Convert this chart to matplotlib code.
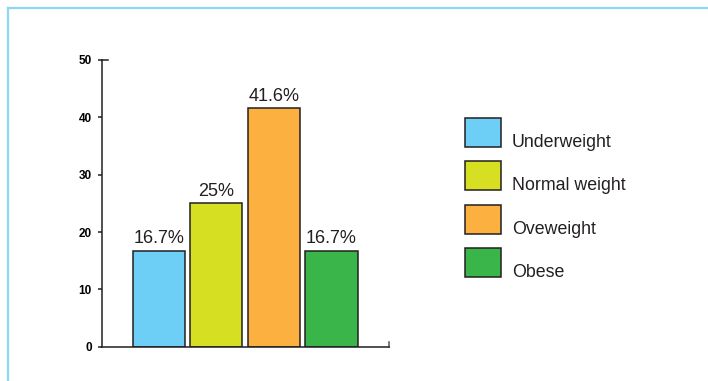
import matplotlib
matplotlib.use("Agg")
import matplotlib.pyplot as plt
from matplotlib.lines import Line2D
from matplotlib.patches import Rectangle

plt.rcParams['font.family'] = ['Liberation Sans', 'DejaVu Sans']

categories = ["Underweight", "Normal weight", "Oveweight", "Obese"]
values = [16.7, 25, 41.6, 16.7]
labels = ["16.7%", "25%", "41.6%", "16.7%"]
colors = ["#6dcff6", "#d7df23", "#fbb040", "#39b54a"]
yticks = [0, 10, 20, 30, 40, 50]

W, H = 708, 381
fig = plt.figure(figsize=(W / 100, H / 100), dpi=100)
ax = fig.add_axes([101.7 / W, 1 - 346.7 / H, (389 - 101.7) / W, (346.7 - 60) / H])

edge = "#231f20"
x = range(len(values))
bars = ax.bar(x, values, width=0.91, color=colors, edgecolor=edge, linewidth=1.1, zorder=2)
for b, lab in zip(bars, labels):
    ax.annotate(lab, (b.get_x() + b.get_width() / 2, b.get_height()),
                xytext=(0, 5.5), textcoords="offset points",
                ha="center", va="baseline", fontsize=13, color="#231f20")

ax.set_xlim(-0.99, 4.0)
ax.set_ylim(0, 50)
ax.set_yticks(yticks)
ax.set_yticklabels([str(t) for t in yticks], fontweight="bold", fontsize=8.5)
ax.tick_params(axis="y", direction="out", length=3, width=1.1, color=edge, pad=4)
ax.set_xticks([])
for s in ["top", "right"]:
    ax.spines[s].set_visible(False)
for s in ["left", "bottom"]:
    ax.spines[s].set_color(edge)
    ax.spines[s].set_linewidth(1.1)

# small caps at axis ends
ax.plot([0, 0.022], [1, 1], transform=ax.transAxes, color=edge, lw=1.1, clip_on=False)
ax.plot([1, 1], [0, 0.018], transform=ax.transAxes, color="#555555", lw=1.1, clip_on=False)

# legend drawn by hand
box_w, box_h = 35.5, 29
for i, (cat, col) in enumerate(zip(categories, colors)):
    top = 118 + i * 43.3
    fig.patches.append(Rectangle((465 / W, 1 - (top + box_h) / H), box_w / W, box_h / H,
                                 transform=fig.transFigure, facecolor=col,
                                 edgecolor=edge, linewidth=1.1))
    fig.text(512 / W, 1 - (top + box_h) / H, cat, fontsize=12.8, color="#231f20",
             ha="left", va="baseline")

# light blue frame lines
fig.add_artist(Line2D([7.5 / W, 1], [1 - 7.5 / H, 1 - 7.5 / H], transform=fig.transFigure,
                      color="#8dd7f0", lw=1.6))
fig.add_artist(Line2D([7.5 / W, 7.5 / W], [0, 1 - 7.5 / H], transform=fig.transFigure,
                      color="#8dd7f0", lw=1.6))

fig.savefig("out.png", dpi=100)
